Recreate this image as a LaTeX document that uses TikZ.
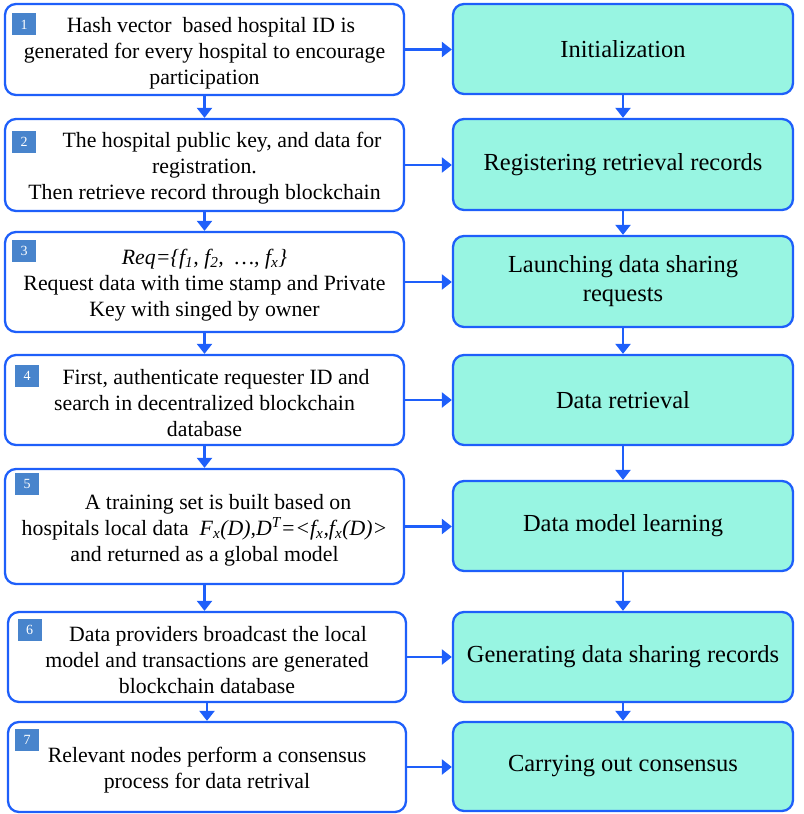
\documentclass[tikz,border=0pt]{standalone}
\usepackage{fontspec}
\setmainfont{Liberation Serif}
\usetikzlibrary{arrows.meta}
\definecolor{bordblue}{RGB}{30,95,250}
\definecolor{cyanfill}{RGB}{152,245,226}
\definecolor{badgeblue}{RGB}{72,132,204}
\newcommand{\topstrut}{\rule{0pt}{22bp}}
\begin{document}
\begin{tikzpicture}[x=1bp,y=-1bp,
  lbox/.style={draw=bordblue,line width=2.3bp,rounded corners=11bp,fill=white,align=center,inner sep=0pt,
     font=\fontsize{21.8bp}{26bp}\selectfont},
  rbox/.style={draw=bordblue,line width=2.3bp,rounded corners=11bp,fill=cyanfill,align=center,inner sep=0pt,
     minimum width=340bp,minimum height=90bp,font=\fontsize{24.5bp}{29bp}\selectfont},
  badge/.style={fill=badgeblue,text=white,minimum width=24bp,minimum height=22bp,inner sep=0pt,
     font=\fontsize{14bp}{14bp}\selectfont},
  arr/.style={draw=bordblue,line width=2.3bp,-{Triangle[width=15bp,length=10bp]}}]
\useasboundingbox (0,0) rectangle (804,814);
% left boxes
\node[lbox,minimum width=399bp,minimum height=91bp] (l1) at (204.5,49.5)
  {\topstrut\hspace*{13bp}Hash vector\ \ based hospital ID is\\generated for every hospital to encourage\\participation};
\node[lbox,minimum width=399bp,minimum height=92bp] (l2) at (204.5,165)
  {\topstrut\hspace*{35bp}The hospital public key, and data for\\registration.\\Then retrieve record through blockchain};
\node[lbox,minimum width=399bp,minimum height=100bp] (l3) at (204.5,282)
  {\topstrut{\itshape Req=\{f\textsubscript{1}, f\textsubscript{2},\ \ \ldots, f\textsubscript{x}\}}\\Request data with time stamp and Private\\Key with singed by owner};
\node[lbox,minimum width=399bp,minimum height=90bp] (l4) at (204.5,400)
  {\topstrut\hspace*{23bp}First, authenticate requester ID and\\search in decentralized blockchain\\database};
\node[lbox,minimum width=399bp,minimum height=115bp] (l5) at (204.5,526.5)
  {\topstrut\hspace*{27bp}A training set is built based on\\hospitals local data\ \ {\itshape F\textsubscript{x}(D),D\textsuperscript{T}=<f\textsubscript{x},f\textsubscript{x}(D)>}\\and returned as a global model};
\node[lbox,minimum width=398bp,minimum height=90bp] (l6) at (207,657)
  {\topstrut\hspace*{22bp}Data providers broadcast the local\\model and transactions are generated\\blockchain database};
\node[lbox,minimum width=398bp,minimum height=90bp] (l7) at (207,767)
  {\topstrut Relevant nodes perform a consensus\\process for data retrival};
% badges
\node[badge] (b1) at (24,24.5) {1};
\node[badge] (b2) at (24,142) {2};
\node[badge] (b3) at (24,251) {3};
\node[badge] (b4) at (27,376) {4};
\node[badge] (b5) at (27,483.5) {5};
\node[badge] (b6) at (29.5,629.5) {6};
\node[badge] (b7) at (27,740) {7};
% right boxes
\node[rbox] (r1) at (623,49) {Initialization};
\node[rbox,minimum height=91bp] (r2) at (623,164.5) {Registering retrieval records};
\node[rbox,minimum height=91bp] (r3) at (623,281.5) {Launching data sharing\\requests};
\node[rbox] (r4) at (623,400) {Data retrieval};
\node[rbox] (r5) at (623,526) {Data model learning};
\node[rbox] (r6) at (623,657) {Generating data sharing records};
\node[rbox,minimum height=89bp] (r7) at (623,766.5) {Carrying out consensus};
% vertical arrows
\foreach \a/\b in {l1/l2,l2/l3,l3/l4,l4/l5,l5/l6,l6/l7,r1/r2,r2/r3,r3/r4,r4/r5,r5/r6,r6/r7}
  \draw[arr] (\a.south) -- (\a.south |- \b.north);
% horizontal arrows
\foreach \i in {1,...,7}
  \draw[arr] (l\i.east) -- (l\i.east -| r\i.west);
\end{tikzpicture}
\end{document}
